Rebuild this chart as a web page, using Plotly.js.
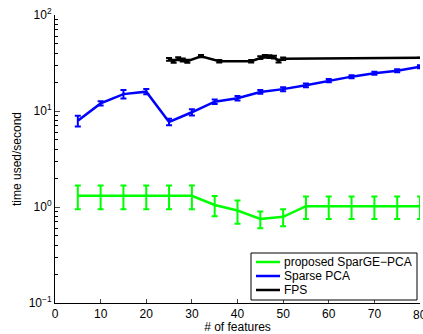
<!DOCTYPE html>
<html><head><meta charset="utf-8">
<script src="https://cdn.plot.ly/plotly-3.0.1.min.js"></script>
<style>html,body{margin:0;padding:0;background:#fff}#plot{width:423px;height:334px}</style>
</head><body><div id="plot"></div>
<script>
const xs = [5,10,15,20,25,30,35,40,45,50,55,60,65,70,75,80];
const sparge = [1.31,1.31,1.31,1.31,1.31,1.31,1.05,0.92,0.75,0.79,1.02,1.02,1.02,1.02,1.02,1.02];
const spargeErr = [0.36,0.36,0.36,0.36,0.36,0.36,0.25,0.25,0.15,0.16,0.27,0.27,0.27,0.27,0.27,0.27];
const spca = [7.9,12.0,15.0,15.9,7.7,9.7,12.5,13.6,15.8,16.9,18.5,20.7,22.8,24.7,26.3,28.9];
const spcaErr = [1.0,0.6,1.5,1.0,0.6,0.7,0.7,0.7,0.7,0.8,0.8,0.8,0.8,0.9,1.0,1.0];
const fpsX = [25,26,27,28,29,32,36,43,45,46,47,48,49,50,80];
const fps = [34.5,33.0,35.0,34.0,33.0,37.2,33.0,33.0,36.0,37.0,36.8,36.5,33.2,35.0,35.8];
const fpsErr = [1.2,1.2,1.2,1.2,1.2,1.0,1.0,1.0,1.2,1.2,1.2,1.2,1.2,1.0,0];
const names = ['proposed SparGE\u2212PCA','Sparse PCA','FPS'];
const colors = ['#00ff00','#0000ff','#000000'];
const yTicks = [0.1,1,10,100];
const yTickText = ['10<sup>\u22121</sup>','10<sup>0</sup>','10<sup>1</sup>','10<sup>2</sup>'];
const xTicks = [0,10,20,30,40,50,60,70,80];

const minorVals = [];
[0.1,1,10].forEach(d=>{for(let k=2;k<=9;k++) minorVals.push(d*k);});

function tr(x,y,e,name,color){
  return {x:x,y:y,name:name,type:'scatter',mode:'lines',showlegend:false,
    line:{color:color,width:2.5},
    error_y:{type:'data',array:e,visible:true,color:color,thickness:2,width:3}};
}
const data = [
  tr(xs,sparge,spargeErr,names[0],colors[0]),
  tr(xs,spca,spcaErr,names[1],colors[1]),
  tr(fpsX,fps,fpsErr,names[2],colors[2])
];
const W=423,H=334,L=55,R=3,T=15,B=31;
const pw=W-L-R, ph=H-T-B;
const px=v=>(v-L)/pw, py=v=>(H-B-v)/ph;
const font = {family:'Liberation Sans, Arial, sans-serif',size:12,color:'#000'};
const shapes=[{type:'rect',xref:'paper',yref:'paper',x0:px(251),x1:px(417),y0:py(300),y1:py(253),
  line:{color:'#000',width:1},fillcolor:'#fff',layer:'above'}];
const annotations=[];
const rows=[262,276,290];
names.forEach((n,i)=>{
  shapes.push({type:'line',xref:'paper',yref:'paper',x0:px(256),x1:px(280),y0:py(rows[i]),y1:py(rows[i]),
    line:{color:colors[i],width:2.5},layer:'above'});
  annotations.push({xref:'paper',yref:'paper',x:px(282),y:py(rows[i]),xanchor:'left',yanchor:'middle',
    text:n,showarrow:false,font:{family:font.family,size:12,color:'#000'}});
});
// last x tick label (Plotly hides it because it overflows the page edge)
const lastTick = xTicks[xTicks.length-1];
annotations.push({xref:'x',yref:'paper',x:lastTick,y:py(306),xanchor:'center',yanchor:'top',
  text:String(lastTick),showarrow:false,font:{family:font.family,size:12,color:'#000'}});
const layout = {
  width:W,height:H,
  margin:{l:L,r:R,t:T,b:B,autoexpand:false},
  paper_bgcolor:'#fff',plot_bgcolor:'#fff',
  font:font,
  showlegend:false,
  shapes:shapes,annotations:annotations,
  xaxis:{range:[0,80],tickvals:xTicks,ticktext:xTicks.map(String),ticks:'inside',ticklen:4,
    showline:true,linecolor:'#000',linewidth:1,showgrid:false,zeroline:false,mirror:false,
    title:{text:'# of features',font:{size:12},standoff:2},automargin:false},
  yaxis:{type:'log',range:[-1,2],tickvals:yTicks,ticktext:yTickText,ticks:'inside',ticklen:5,
    showline:true,linecolor:'#000',linewidth:1,showgrid:false,zeroline:false,mirror:false,
    minor:{tickvals:minorVals,ticks:'inside',ticklen:3,tickcolor:'#000',showgrid:false},
    title:{text:'time used/second',font:{size:12},standoff:4},automargin:false}
};
Plotly.newPlot('plot',data,layout,{displayModeBar:false,staticPlot:true});
</script></body></html>
